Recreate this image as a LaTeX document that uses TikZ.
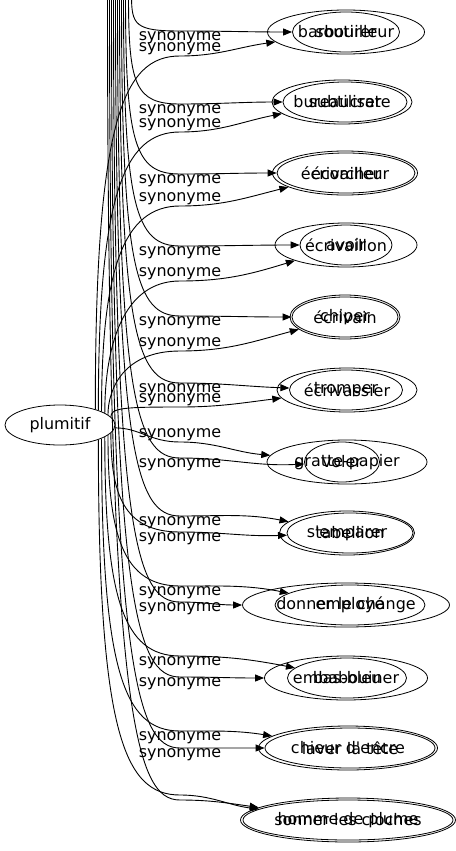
\documentclass[tikz,border=0pt]{standalone}
\usepackage{fontspec}
\newfontfamily\dejavu{DejaVu Sans}
\newcommand{\grfont}{\dejavu\fontsize{16}{19}\selectfont}
\usetikzlibrary{shapes.geometric, arrows.meta}
\tikzset{
    wordnode/.style={ellipse, draw, inner sep=0pt, minimum height=40bp, font=\grfont},
    wideword/.style={wordnode, minimum height=44bp},
    synarrow/.style={-{Triangle[length=9bp, width=7bp]}, line width=0.9bp},
    synlabel/.style={font=\grfont, inner sep=0.5bp},
}
\begin{document}
\begin{tikzpicture}[x=1bp, y=1bp, line width=0.8bp]
    \useasboundingbox (0,0) rectangle (456,-851);
    \clip (0,0) rectangle (456,-851);

    \node[wordnode, minimum width=110bp] (plumitif) at (60,-425) {plumitif};

    % the two word lists lie on top of each other
    \node[wideword, minimum width=157bp] (barbouilleur) at (346,-32) {barbouilleur};
    \node[wordnode, minimum width=107bp] (soutirer) at (346,-32) {soutirer};
    \node[wideword, minimum width=140bp] (bureaucrate) at (342,-102) {bureaucrate};
    \node[wordnode, minimum width=124bp] (subtiliser) at (345,-102) {subtiliser};
    \node[wideword, minimum width=145bp] (ecrivailleur) at (345,-173) {écrivailleur};
    \node[wordnode, minimum width=138bp] (ecorcher) at (346,-173) {écorcher};
    \node[wideword, minimum width=142bp] (ecrivaillon) at (346,-245) {écrivaillon};
    \node[wordnode, minimum width=92bp] (avoir) at (346,-245) {avoir};
    \node[wideword, minimum width=110bp] (ecrivain) at (345,-317) {écrivain};
    \node[wordnode, minimum width=106bp] (chiper) at (345,-317) {chiper};
    \node[wideword, minimum width=140bp] (ecrivassier) at (347,-390) {écrivassier};
    \node[wordnode, minimum width=113bp] (tromper) at (346,-390) {tromper};
    \node[wideword, minimum width=160bp] (gratte) at (347,-462) {gratte-papier};
    \node[wordnode, minimum width=75bp] (voler) at (342,-462) {voler};
    \node[wideword, minimum width=135bp] (semparer) at (347,-533) {s'emparer};
    \node[wordnode, minimum width=126bp] (tabellion) at (350,-533) {tabellion};
    \node[wideword, minimum width=207bp] (donner) at (346,-605) {donner le change};
    \node[wordnode, minimum width=150bp] (employe) at (350,-605) {employé};
    \node[wideword, minimum width=163bp] (embabouiner) at (346,-678) {embabouiner};
    \node[wordnode, minimum width=119bp] (basbleu) at (347,-678) {bas-bleu};
    \node[wideword, minimum width=179bp] (chieur) at (348,-748) {chieur d'encre};
    \node[wordnode, minimum width=170bp] (laver) at (350,-748) {laver la tête};
    \node[wideword, minimum width=215bp] (sonner) at (348,-820) {sonner les cloches};
    \node[wordnode, minimum width=210bp] (homme) at (348,-820) {homme de plume};

    % edges from plumitif
    \draw[synarrow] (plumitif.24) .. controls +(0,289) and +(-57,0) .. (180,-56) node[synlabel, above] (syna1) {synonyme} to[out=0, in=188] (barbouilleur);
    \draw[synarrow] (plumitif.21) .. controls +(0,213) and +(-57,0) .. (180,-132) node[synlabel, above] (syna2) {synonyme} to[out=0, in=191] (bureaucrate);
    \draw[synarrow] (plumitif.18) .. controls +(0,141) and +(-57,0) .. (180,-206) node[synlabel, above] (syna3) {synonyme} to[out=0, in=194] (ecrivailleur);
    \draw[synarrow] (plumitif.15) .. controls +(0,67) and +(-57,0) .. (180,-281) node[synlabel, above] (syna4) {synonyme} to[out=0, in=197] (ecrivaillon);
    \draw[synarrow] (plumitif.12) .. controls +(0,25) and +(-57,0) .. (180,-351) node[synlabel, above] (syna5) {synonyme} to[out=0, in=195] (ecrivain);
    \draw[synarrow] (plumitif.9) .. controls +(0,9) and +(-57,0) .. (180,-407) node[synlabel, above] (syna6) {synonyme} to[out=0, in=187] (ecrivassier);
    \draw[synarrow] (plumitif.-3) .. controls +(25,0) and +(-30,0) .. (180,-442) node[synlabel, above] (syna7) {synonyme} to[out=0, in=175] (gratte);
    \draw[synarrow] (plumitif.-9) .. controls +(0,-60) and +(-57,0) .. (180,-532) node[synlabel, below] (syna8) {synonyme} to[out=0, in=182] (tabellion);
    \draw[synarrow] (plumitif.-12) .. controls +(0,-100) and +(-57,0) .. (180,-586) node[synlabel, below] (syna9) {synonyme} to[out=0, in=169] (employe);
    \draw[synarrow] (plumitif.-15) .. controls +(0,-160) and +(-57,0) .. (180,-656) node[synlabel, below] (syna10) {synonyme} to[out=0, in=169] (basbleu);
    \draw[synarrow] (plumitif.-18) .. controls +(0,-230) and +(-57,0) .. (180,-731) node[synlabel, below] (syna11) {synonyme} to[out=0, in=171] (chieur);
    \draw[synarrow] (plumitif.-21) .. controls +(0,-290) and +(-57,0) .. (180,-795) to[out=0, in=173] (homme);

    % edges coming in from above the picture
    \coordinate (top1) at (131.5,5);
    \coordinate (top2) at (128.5,5);
    \coordinate (top3) at (125.5,5);
    \coordinate (top4) at (123.5,5);
    \coordinate (top5) at (121.5,5);
    \coordinate (top6) at (119.5,5);
    \coordinate (top7) at (117.5,5);
    \coordinate (top8) at (115.5,5);
    \coordinate (top9) at (113.5,5);
    \coordinate (top10) at (111.5,5);
    \coordinate (top11) at (109.5,5);
    \coordinate (top12) at (107.5,5);
    \draw[synarrow] (top1) .. controls +(0,-30) and +(-45,0) .. (180,-31) node[synlabel, below] (synb1) {synonyme} to[out=0, in=180] (soutirer);
    \draw[synarrow] (top2) .. controls +(0,-90) and +(-45,0) .. (180,-104) node[synlabel, below] (synb2) {synonyme} to[out=0, in=180] (subtiliser);
    \draw[synarrow] (top3) .. controls +(0,-150) and +(-45,0) .. (180,-174) node[synlabel, below] (synb3) {synonyme} to[out=0, in=180] (ecorcher);
    \draw[synarrow] (top4) .. controls +(0,-210) and +(-45,0) .. (180,-246) node[synlabel, below] (synb4) {synonyme} to[out=0, in=180] (avoir);
    \draw[synarrow] (top5) .. controls +(0,-270) and +(-45,0) .. (180,-316) node[synlabel, below] (synb5) {synonyme} to[out=0, in=180] (chiper);
    \draw[synarrow] (top6) .. controls +(0,-330) and +(-45,0) .. (180,-383) node[synlabel, below] (synb6) {synonyme} to[out=0, in=178] (tromper);
    \draw[synarrow] (top7) .. controls +(0,-400) and +(-45,0) .. (180,-458) node[synlabel, below] (synb7) {synonyme} to[out=0, in=183] (voler);
    \draw[synarrow] (top8) .. controls +(0,-455) and +(-45,0) .. (180,-516) node[synlabel, below] (synb8) {synonyme} to[out=0, in=169] (semparer);
    \draw[synarrow] (top9) .. controls +(0,-535) and +(-45,0) .. (180,-602) node[synlabel, below] (synb9) {synonyme} to[out=0, in=180] (donner);
    \draw[synarrow] (top10) .. controls +(0,-605) and +(-45,0) .. (180,-677) node[synlabel, below] (synb10) {synonyme} to[out=0, in=180] (embabouiner);
    \draw[synarrow] (top11) .. controls +(0,-670) and +(-45,0) .. (180,-748) node[synlabel, below] (synb11) {synonyme} to[out=0, in=180] (laver);
    \draw[synarrow] (top12) .. controls +(0,-720) and +(-45,0) .. (180,-800) to[out=0, in=172] (sonner);
\end{tikzpicture}
\end{document}
